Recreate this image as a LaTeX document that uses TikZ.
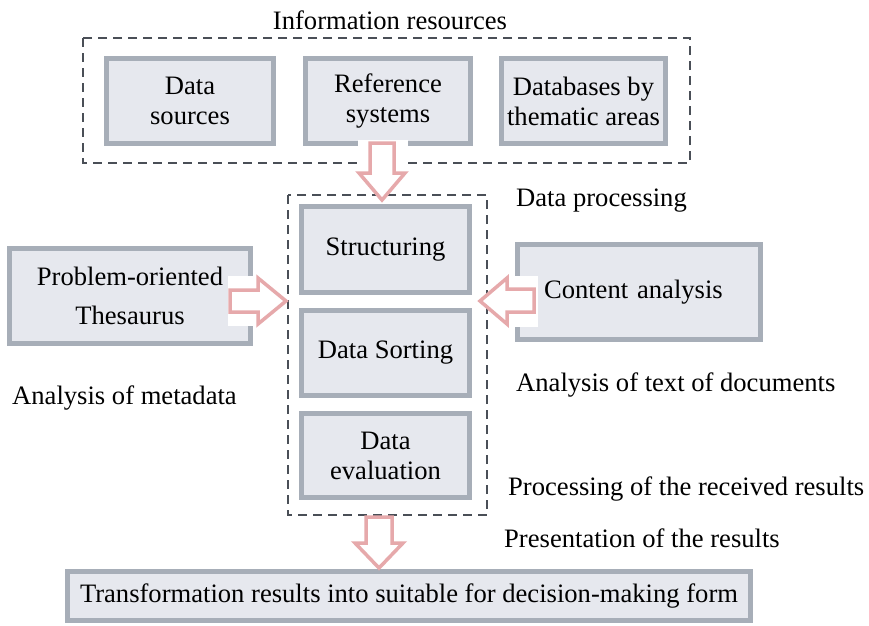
\documentclass[tikz,border=0pt]{standalone}
\usepackage{fontspec}
\setmainfont{Liberation Serif}
\definecolor{boxfill}{HTML}{E6E8EE}
\definecolor{boxline}{HTML}{A7AEB8}
\definecolor{dashline}{HTML}{4A4F57}
\definecolor{arrowpink}{HTML}{E6A9AB}
\tikzset{
  box/.style={draw=boxline, fill=boxfill, line width=5pt, align=center, inner sep=0pt,
    font=\fontsize{26.6}{30}\selectfont},
  group/.style={draw=dashline, line width=2pt, dash pattern=on 9pt off 6pt},
  blockarrow/.style={draw=arrowpink, fill=white, line width=3.5pt, line join=miter},
  lbl/.style={font=\fontsize{26.6}{30}\selectfont, inner sep=0pt},
}
\begin{document}
\begin{tikzpicture}[x=1pt,y=-1pt]
\useasboundingbox (0,0) rectangle (869,625);
\fill[white] (0,0) rectangle (869,625);

% groups
\draw[group] (83,38) rectangle (690,163);
\draw[group] (288,195) rectangle (487,515);

% top boxes
\node[box, minimum width=167pt, minimum height=85pt] (src) at (190,101) {Data\\sources};
\node[box, minimum width=165pt, minimum height=85pt] (ref) at (388,101) {Reference\\systems};
\node[box, minimum width=164pt, minimum height=85pt] (db) at (583.5,101) {Databases by\\thematic areas};

% processing boxes
\node[box, minimum width=168pt, minimum height=86pt] (str) at (385.5,249.5) {Structuring};
\node[box, minimum width=168pt, minimum height=85pt] (sort) at (385.5,353) {Data Sorting};
\node[box, minimum width=168pt, minimum height=84pt] (eval) at (385.5,455.5) {Data\\evaluation};

% side boxes
\node[box, minimum width=241pt, minimum height=95pt, font=\fontsize{26.6}{39}\selectfont] (thes) at (130,296) {Problem-oriented\\Thesaurus};
\node[box, minimum width=243pt, minimum height=95pt, text width=220pt, align=left] (cont) at (639,292) {\hspace*{15pt}\raisebox{-3pt}{Content analysis}};

% bottom box
\node[box, minimum width=683pt, minimum height=49pt] (res) at (409,596) {Transformation results into suitable for decision-making form};

% labels
\node[lbl] (info) at (390,20) {Information resources};
\node[lbl, anchor=west] (dp) at (516,201) {Data processing};
\node[lbl, anchor=west] (meta) at (12,398) {Analysis of metadata};
\node[lbl, anchor=west] (txt) at (516,385) {Analysis of text of documents};
\node[lbl, anchor=west] (proc) at (508,489) {Processing of the received results};
\node[lbl, anchor=west] (pres) at (504,538) {Presentation of the results};

% block arrows
\fill[white] (358,140) rectangle (408,190);
\draw[blockarrow] (370,143) -- (394,143) -- (394,173) -- (405,173) -- (382,200) -- (359,173) -- (370,173) -- cycle;

\fill[white] (228,276) rectangle (258,326);
\draw[blockarrow] (230,290) -- (258,290) -- (258,278) -- (286,301) -- (258,324) -- (258,312) -- (230,312) -- cycle;

\fill[white] (505,276) rectangle (538,327);
\draw[blockarrow] (534,289) -- (507,289) -- (507,278) -- (480,301) -- (507,324) -- (507,312) -- (534,312) -- cycle;

\draw[blockarrow] (366,517) -- (392,517) -- (392,543) -- (403,543) -- (379,568) -- (355,543) -- (366,543) -- cycle;
\end{tikzpicture}
\end{document}
